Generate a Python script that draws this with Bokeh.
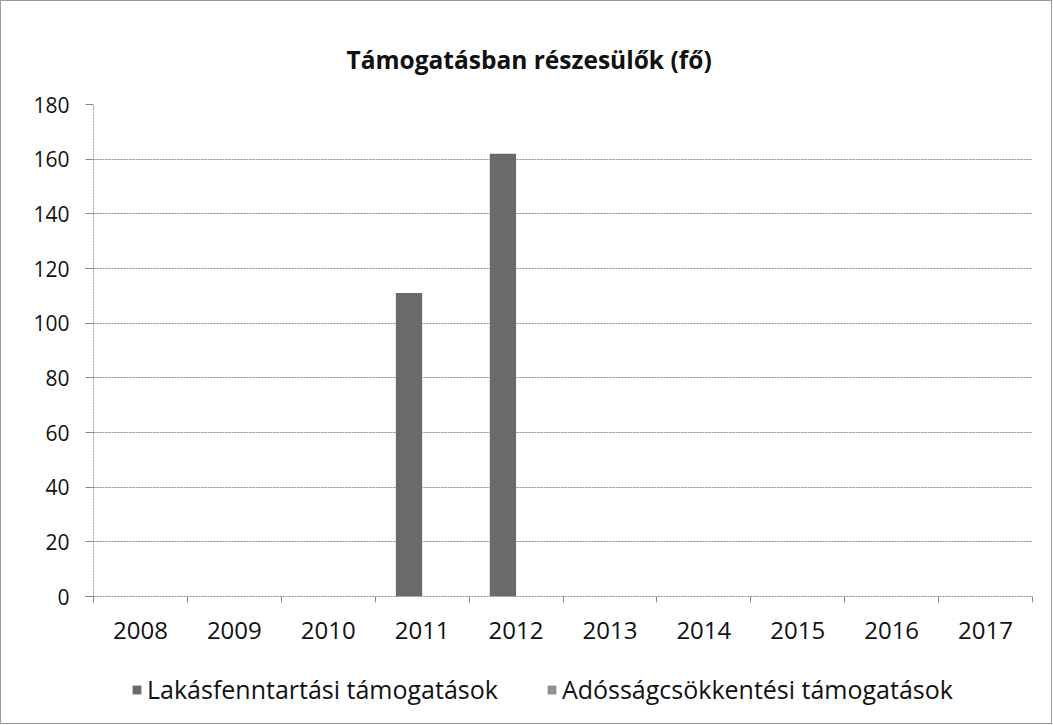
import numpy as np
from bokeh.plotting import figure
from bokeh.layouts import column
from bokeh.models import FixedTicker, Legend, LegendItem, Range1d, ColumnDataSource
from bokeh.embed import file_html
from bokeh.resources import INLINE

years = ["2008", "2009", "2010", "2011", "2012", "2013", "2014", "2015", "2016", "2017"]
lakas = [0, 0, 0, 111, 162, 0, 0, 0, 0, 0]
adossag = [0, 0, 0, 0, 0, 0, 0, 0, 0, 0]
series_names = ["Lakásfenntartási támogatások", "Adósságcsökkentési támogatások"]
series_colors = ["#6a6a6a", "#8e8e8e"]
y_ticks = [0, 20, 40, 60, 80, 100, 120, 140, 160, 180]

FONT = "Open Sans"
n = len(years)
centers = np.arange(n) + 0.5
bw = 0.28

p = figure(width=1050, height=660, output_backend="svg", toolbar_location=None,
           x_range=Range1d(0, n), y_range=Range1d(0, 180),
           min_border_left=92, min_border_right=19, min_border_top=103, min_border_bottom=65)
p.outline_line_color = None

src1 = ColumnDataSource(dict(x=centers - bw / 2, top=lakas))
src2 = ColumnDataSource(dict(x=centers + bw / 2, top=adossag))
p.vbar(x="x", top="top", width=bw, source=src1, fill_color=series_colors[0], line_color=None)
p.vbar(x="x", top="top", width=bw, source=src2, fill_color=series_colors[1], line_color=None)

p.title.text = "Támogatásban részesülők (fő)"
p.title.align = "left"
p.title.offset = 253
p.title.text_font = FONT
p.title.text_font_style = "bold"
p.title.text_font_size = "24.5px"
p.title.text_color = "#111111"
p.title.standoff = 57

xa = p.xaxis[0]
xa.ticker = FixedTicker(ticks=list(centers), minor_ticks=list(range(n + 1)))
xa.major_label_overrides = {float(c): y for c, y in zip(centers, years)}
xa.major_tick_out = 0
xa.major_tick_in = 0
xa.minor_tick_out = 6
xa.minor_tick_in = 0
xa.minor_tick_line_color = "#888888"
xa.axis_line_color = "#888888"
xa.axis_line_dash = "2 1"
xa.major_label_text_font = FONT
xa.major_label_text_font_size = "24px"
xa.major_label_text_color = "#111111"
xa.major_label_standoff = 19

ya = p.yaxis[0]
ya.ticker = FixedTicker(ticks=y_ticks)
ya.major_tick_out = 8
ya.major_tick_in = 0
ya.minor_tick_out = 0
ya.minor_tick_in = 0
ya.major_tick_line_color = "#888888"
ya.axis_line_color = "#999999"
ya.axis_line_dash = "2 1"
ya.major_label_text_font = FONT
ya.major_label_text_font_size = "21px"
ya.major_label_text_color = "#111111"
ya.major_label_standoff = 16

p.xgrid.grid_line_color = None
p.ygrid.grid_line_color = "#8a8a8a"
p.ygrid.grid_line_dash = "2 1"
p.ygrid.grid_line_width = 1

# legend strip below the chart (its bars lie outside its visible range)
lf = figure(width=1050, height=62, output_backend="svg", toolbar_location=None,
            x_range=Range1d(0, n), y_range=Range1d(1000, 1001),
            x_axis_location=None, y_axis_location=None,
            min_border_left=0, min_border_right=0, min_border_top=0, min_border_bottom=0)
lf.grid.grid_line_color = None
lf.outline_line_color = None
l1 = lf.vbar(x="x", top="top", width=bw, source=src1, fill_color=series_colors[0], line_color=None)
l2 = lf.vbar(x="x", top="top", width=bw, source=src2, fill_color=series_colors[1], line_color=None)
legend = Legend(items=[LegendItem(label=series_names[0], renderers=[l1]),
                       LegendItem(label=series_names[1], renderers=[l2])],
                location=(38, 17), orientation="horizontal",
                border_line_color=None, background_fill_alpha=0,
                label_text_font=FONT, label_text_font_size="25px", label_text_color="#111111",
                glyph_width=11, glyph_height=11, spacing=48, label_standoff=5,
                padding=0, margin=0)
lf.add_layout(legend, "center")

layout = column(p, lf, spacing=0, styles={"border": "1px solid #9a9a9a"})

open("out.html", "w").write(file_html(layout, INLINE))
